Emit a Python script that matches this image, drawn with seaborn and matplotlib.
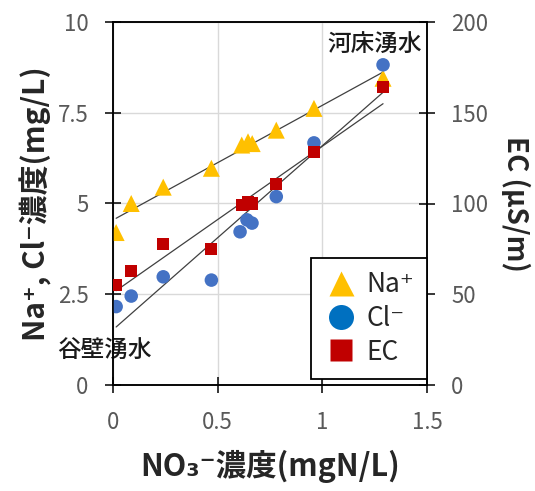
import numpy as np
import pandas as pd
import matplotlib
matplotlib.use("Agg")
import matplotlib.pyplot as plt
from matplotlib.lines import Line2D
import seaborn as sns

# ---- data ----
no3 = [0.015, 0.087, 0.24, 0.47, 0.615, 0.645, 0.665, 0.78, 0.96, 1.29]
na = [4.2, 5.0, 5.45, 5.97, 6.61, 6.70, 6.65, 7.02, 7.62, 8.45]
cl_x = [0.015, 0.087, 0.24, 0.47, 0.607, 0.64, 0.664, 0.78, 0.96, 1.29]
cl = [2.16, 2.45, 2.98, 2.89, 4.22, 4.55, 4.46, 5.19, 6.67, 8.82]
ec = [55, 63, 77.5, 75, 99, 101, 100, 110.5, 128.5, 164]
xticks = [0, 0.5, 1, 1.5]
xtick_labels = ["0", "0.5", "1", "1.5"]
yticks_left = [0, 2.5, 5, 7.5, 10]
ytick_labels_left = ["0", "2.5", "5", "7.5", "10"]
yticks_right = [0, 50, 100, 150, 200]

sns.set_style("ticks")
plt.rcParams['font.family'] = ['Noto Sans CJK JP', 'DejaVu Sans']

C_NA = "#FFC000"
C_CL = "#4472C4"
C_EC = "#C00000"
TICKC = "#595959"

fig = plt.figure(figsize=(5.35, 4.91), dpi=100)
ax = fig.add_axes([113/535, 1-385/491, (427-113)/535, (385-22)/491])
ax2 = ax.twinx()

df_na = pd.DataFrame({"x": no3, "y": na})
df_cl = pd.DataFrame({"x": cl_x, "y": cl})
df_ec = pd.DataFrame({"x": no3, "y": ec})

# trend lines
for xs, ys, a in [(no3, na, ax), (cl_x, cl, ax), (no3, ec, ax2)]:
    k, b = np.polyfit(xs, ys, 1)
    xx = np.array([min(xs), max(xs)])
    a.plot(xx, k*xx + b, color="#404040", lw=0.9, zorder=2)

sns.scatterplot(data=df_na, x="x", y="y", ax=ax, marker="^", s=150, color=C_NA,
                edgecolor="none", zorder=3, legend=False)
sns.scatterplot(data=df_cl, x="x", y="y", ax=ax, marker="o", s=95, color=C_CL,
                edgecolor="none", zorder=3, legend=False)
sns.scatterplot(data=df_ec, x="x", y="y", ax=ax2, marker="s", s=75, color=C_EC,
                edgecolor="none", zorder=3, legend=False)

ax.set_xlim(0, 1.5)
ax.set_ylim(0, 10)
ax2.set_ylim(0, 200)
ax.set_xticks(xticks)
ax.set_xticklabels(xtick_labels)
ax.set_yticks(yticks_left)
ax.set_yticklabels(ytick_labels_left)
ax2.set_yticks(yticks_right)

ax.grid(True, color="#D9D9D9", lw=1)
ax.set_axisbelow(True)
for a in (ax, ax2):
    for s in a.spines.values():
        s.set_color("black")
        s.set_linewidth(1.1)
    a.tick_params(direction="inout", length=11, width=1.1, labelsize=16,
                  labelcolor=TICKC, pad=12, color="black")
ax.tick_params(axis="x", pad=13)

ax.set_xlabel("NO₃⁻濃度(mgN/L)", fontsize=22, fontweight="bold", labelpad=12)
ax.set_ylabel("Na⁺, Cl⁻濃度(mg/L)", fontsize=21.5, fontweight="bold", labelpad=4)
ax2.set_ylabel("EC (μS/m)", fontsize=20, fontweight="bold", rotation=270, labelpad=30)

ax.text(1.248, 9.37, "河床湧水", fontsize=17, fontweight="medium", ha="center",
        va="center", color="#1a1a1a")
ax.text(-0.04, 0.96, "谷壁湧水", fontsize=17, fontweight="medium", ha="center",
        va="center", color="#1a1a1a", clip_on=False, zorder=5)

handles = [
    Line2D([], [], ls="none", marker="^", ms=18, color=C_NA, mec="none"),
    Line2D([], [], ls="none", marker="o", ms=18, color="#0070C0", mec="none"),
    Line2D([], [], ls="none", marker="s", ms=16, color=C_EC, mec="none"),
]
leg = ax2.legend(handles, ["Na⁺", "Cl⁻", "EC"], loc="lower right",
                 bbox_to_anchor=(1.0, 0.017), borderaxespad=0, fontsize=19,
                 frameon=True, fancybox=False, framealpha=1, edgecolor="black",
                 handletextpad=0.3, labelspacing=0.25, borderpad=0.5,
                 handlelength=1.3)
leg.get_frame().set_linewidth(1.3)

fig.savefig("out.png", dpi=100)
